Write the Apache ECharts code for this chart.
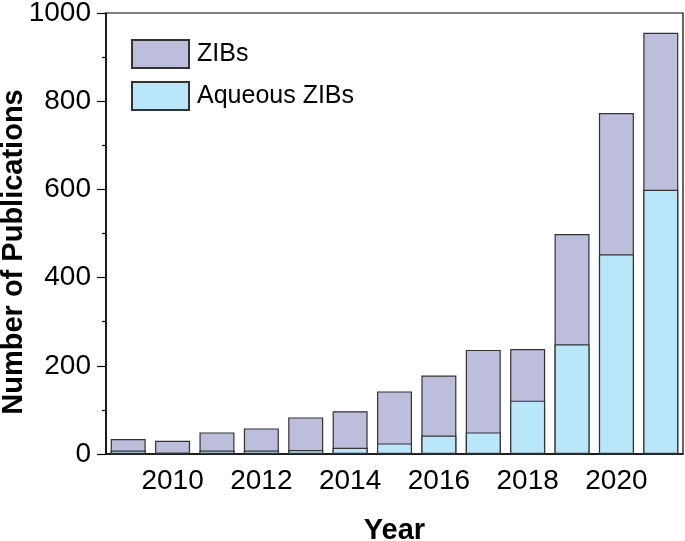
<!DOCTYPE html>
<html>
<head>
<meta charset="utf-8">
<script src="https://cdn.jsdelivr.net/npm/echarts@6/dist/echarts.min.js"></script>
<style>html,body{margin:0;padding:0;background:#fff;}#c{width:685px;height:541px;}</style>
</head>
<body>
<div id="c"></div>
<script>
var years = ['2009','2010','2011','2012','2013','2014','2015','2016','2017','2018','2019','2020','2021'];
var zibs = [34, 30, 49, 58, 83, 97, 142, 178, 236, 238, 499, 773, 955];
var aqueous = [8, 3, 8, 8, 9, 14, 24, 42, 49, 121, 249, 453, 599];

var chart = echarts.init(document.getElementById('c'));
var font = 'Liberation Sans, Arial, sans-serif';
chart.setOption({
  animation: false,
  textStyle: {fontFamily: font},
  grid: {left: 106, right: 2, top: 13, bottom: 87, containLabel: false, outerBoundsMode: 'none',
         show: true, borderColor: '#000', borderWidth: 1.2},
  legend: {
    orient: 'vertical', left: 126, top: 34, itemWidth: 57, itemHeight: 28, itemGap: 12,
    icon: 'rect',
    textStyle: {fontSize: 25, color: '#000', fontFamily: font, padding: [0,0,0,3]},
    data: ['ZIBs', 'Aqueous ZIBs']
  },
  graphic: [{
    type: 'text', x: 14, y: 252, rotation: Math.PI / 2,
    style: {text: 'Number of Publications', fontSize: 29, fontWeight: 'bold', fill: '#000',
            fontFamily: font, align: 'center', verticalAlign: 'middle'}
  }],
  xAxis: [{
    type: 'category', data: years, position: 'bottom',
    name: 'Year', nameLocation: 'middle', nameGap: 62,
    nameTextStyle: {fontSize: 29, fontWeight: 'bold', color: '#000', fontFamily: font},
    axisLine: {lineStyle: {color: '#000', width: 1.5}},
    axisTick: {alignWithLabel: true, length: 9, lineStyle: {color: '#000', width: 1.2}, interval: function(i){return i % 2 === 1;}},
    axisLabel: {fontSize: 28, color: '#000', margin: 13, fontFamily: font, interval: function(i){return i % 2 === 1;}}
  }, {
    type: 'category', data: years, position: 'bottom',
    axisLine: {show: false},
    axisTick: {alignWithLabel: true, length: 5, interval: 0, lineStyle: {color: '#000', width: 1.2}},
    axisLabel: {show: false}
  }],
  yAxis: {
    type: 'value', min: 0, max: 1000, interval: 200,
    axisLine: {show: true, lineStyle: {color: '#000', width: 1.5}},
    axisTick: {show: true, length: 9, lineStyle: {color: '#000', width: 1.2}},
    minorTick: {show: true, splitNumber: 2, length: 4, lineStyle: {color: '#000', width: 1.2}},
    splitLine: {show: false},
    axisLabel: {fontSize: 28, color: '#000', margin: 15, fontFamily: font, formatter: function(v){return String(v);}}
  },
  series: [{
    name: 'ZIBs', type: 'bar', data: zibs, barWidth: 35, barGap: '-100%',
    itemStyle: {color: '#bdbddc', borderColor: '#333', borderWidth: 1.2}
  }, {
    name: 'Aqueous ZIBs', type: 'bar', data: aqueous, barWidth: 35, barGap: '-100%',
    itemStyle: {color: '#bae6fa', borderColor: '#333', borderWidth: 1.2}
  }]
});
</script>
</body>
</html>
